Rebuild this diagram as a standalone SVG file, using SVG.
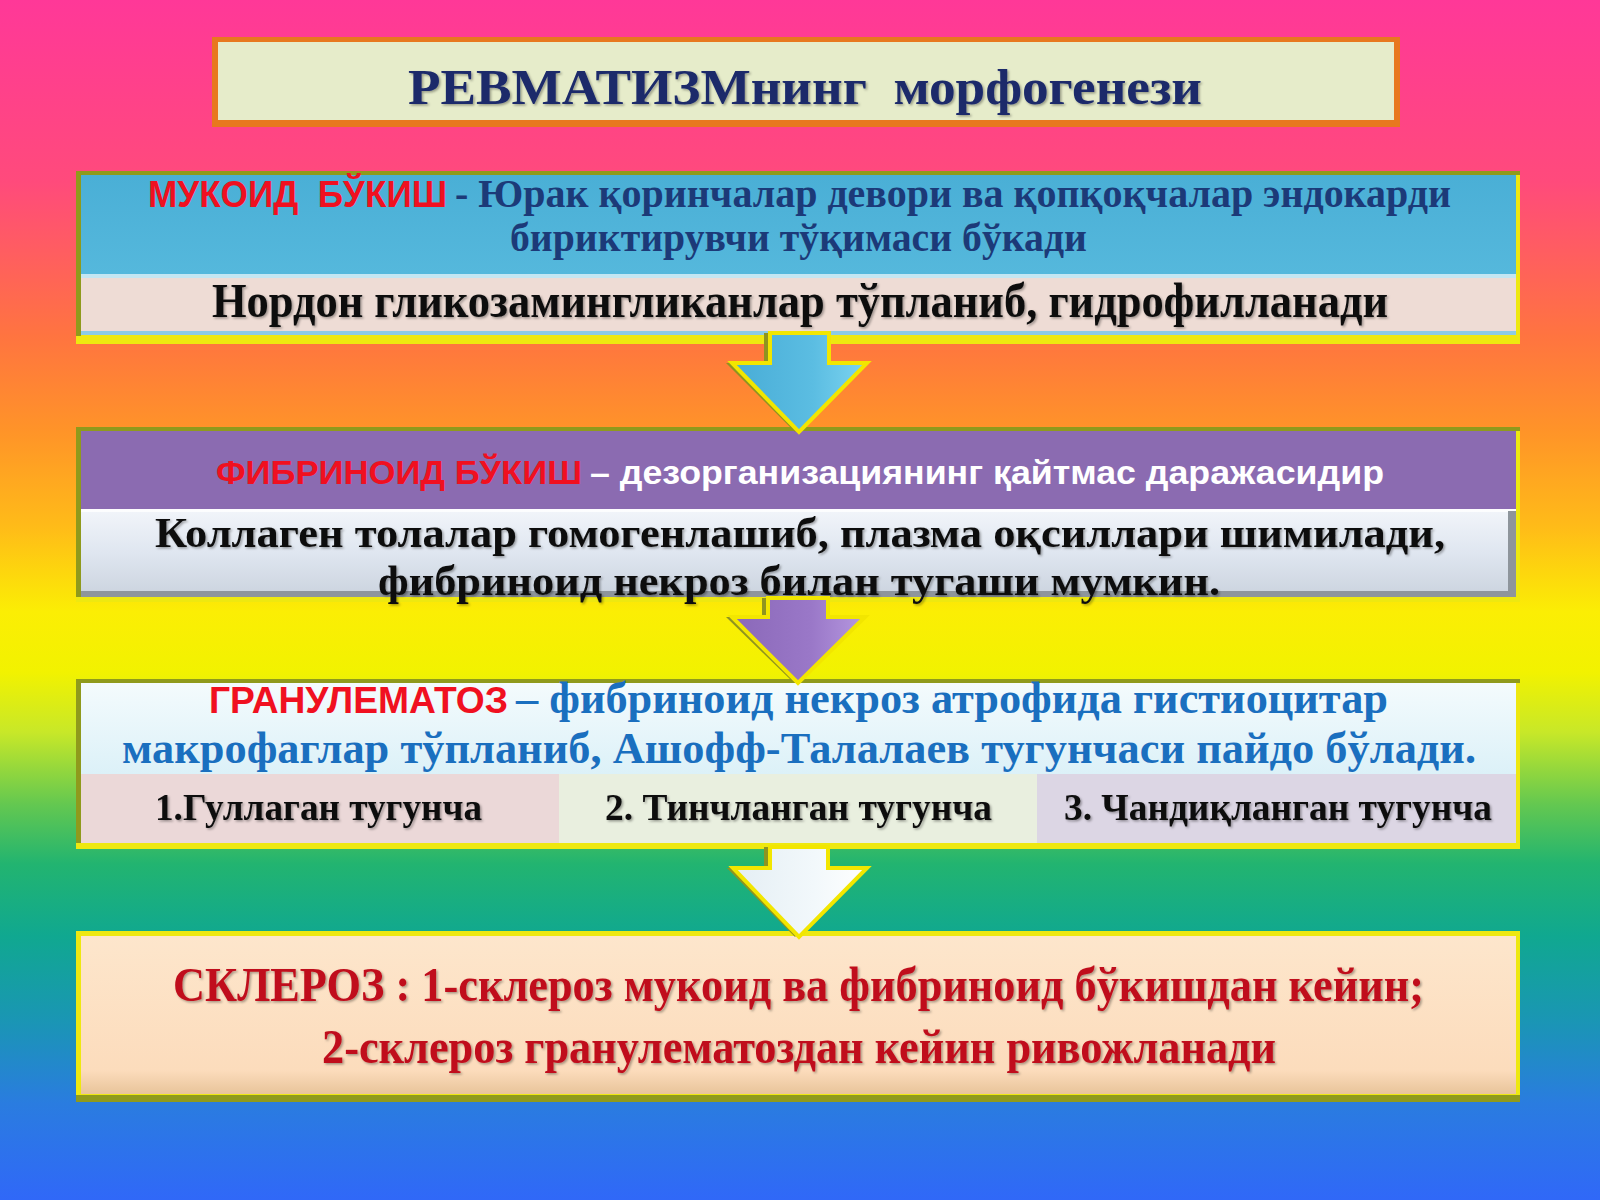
<svg xmlns="http://www.w3.org/2000/svg" width="1600" height="1200" viewBox="0 0 1600 1200">
  <defs>
    <linearGradient id="bg" x1="0" y1="0" x2="0" y2="1">
      <stop offset="0" stop-color="#ff3898"/>
      <stop offset="0.15" stop-color="#ff4a7c"/>
      <stop offset="0.28" stop-color="#ff7440"/>
      <stop offset="0.36" stop-color="#ff9428"/>
      <stop offset="0.44" stop-color="#ffbc18"/>
      <stop offset="0.51" stop-color="#fbee04"/>
      <stop offset="0.56" stop-color="#f2f200"/>
      <stop offset="0.61" stop-color="#c8e828"/>
      <stop offset="0.67" stop-color="#64c850"/>
      <stop offset="0.72" stop-color="#22b470"/>
      <stop offset="0.78" stop-color="#10a890"/>
      <stop offset="0.85" stop-color="#1a96b4"/>
      <stop offset="0.92" stop-color="#2a7ce0"/>
      <stop offset="1" stop-color="#3068f8"/>
    </linearGradient>
    <linearGradient id="blueSec" x1="0" y1="0" x2="0" y2="1">
      <stop offset="0" stop-color="#4aafd6"/>
      <stop offset="1" stop-color="#55b8dc"/>
    </linearGradient>
    <linearGradient id="greySec" x1="0" y1="0" x2="0" y2="1">
      <stop offset="0" stop-color="#f2f5fa"/>
      <stop offset="0.5" stop-color="#dfe6f0"/>
      <stop offset="1" stop-color="#cbd3de"/>
    </linearGradient>
    <linearGradient id="whiteSec" x1="0" y1="0" x2="0" y2="1">
      <stop offset="0" stop-color="#f4fbfd"/>
      <stop offset="1" stop-color="#dcf1f8"/>
    </linearGradient>
    <linearGradient id="peach" x1="0" y1="0" x2="0" y2="1">
      <stop offset="0" stop-color="#fde6cc"/>
      <stop offset="0.85" stop-color="#fcdcbc"/>
      <stop offset="1" stop-color="#e8c49a"/>
    </linearGradient>
    <linearGradient id="arrBlue" x1="0" y1="0" x2="1" y2="0">
      <stop offset="0" stop-color="#48acd6"/>
      <stop offset="0.6" stop-color="#5bbde2"/>
      <stop offset="1" stop-color="#7dd4f0"/>
    </linearGradient>
    <linearGradient id="arrPurple" x1="0" y1="0" x2="1" y2="0">
      <stop offset="0" stop-color="#8a68b8"/>
      <stop offset="0.6" stop-color="#9a78c8"/>
      <stop offset="1" stop-color="#b698e0"/>
    </linearGradient>
    <linearGradient id="arrWhite" x1="0" y1="0" x2="1" y2="0">
      <stop offset="0" stop-color="#e4eef4"/>
      <stop offset="0.6" stop-color="#f2f8fb"/>
      <stop offset="1" stop-color="#ffffff"/>
    </linearGradient>
    <filter id="ts" x="-5%" y="-20%" width="110%" height="140%">
      <feDropShadow dx="1.5" dy="1.5" stdDeviation="1" flood-color="#000" flood-opacity="0.35"/>
    </filter>
  </defs>
  <style>
    .frame { fill: #eee810; }
    .frameShade { fill: #8f9a1c; }
    .serif { font-family: "Liberation Serif", "Times New Roman", serif; font-weight: bold; }
    .sans { font-family: "Liberation Sans", Arial, sans-serif; font-weight: bold; }
    .red { fill: #f01020; }
    .navy { fill: #1c3a78; }
    .black { fill: #111111; }
    .white { fill: #ffffff; }
    .blue { fill: #1a6fbf; }
    .dred { fill: #c0101c; }
    .arrowEdge { stroke: #f2e600; stroke-width: 4; stroke-linejoin: miter; }
    .arrowShadow { fill: #8f9420; }
  </style>

  <rect x="0" y="0" width="1600" height="1200" fill="url(#bg)"/>

  <g id="title">
    <rect x="212" y="37" width="1188" height="90" fill="#e8781e"/>
    <rect x="218" y="42" width="1176" height="78" fill="#e6ecca"/>
    <text class="serif" x="408" y="104" font-size="50" fill="#1b2a6b" textLength="794" lengthAdjust="spacingAndGlyphs" filter="url(#ts)">РЕВМАТИЗМнинг&#160; морфогенези</text>
  </g>

  <g id="node-mucoid">
    <rect class="frame" x="76" y="171" width="1444" height="173"/>
    <rect class="frameShade" x="76" y="171" width="1444" height="4"/>
    <rect class="frameShade" x="76" y="171" width="5" height="165"/>
    <rect x="81" y="175" width="1435" height="99" fill="url(#blueSec)"/>
    <rect x="81" y="274" width="1435" height="4" fill="#c4e6f2"/>
    <rect x="81" y="278" width="1435" height="53" fill="#eedcd5"/>
    <rect x="81" y="331" width="1435" height="4" fill="#8ccbe6"/>
    <text class="sans red" x="148" y="207" font-size="36" textLength="299" lengthAdjust="spacingAndGlyphs">МУКОИД&#160; БЎКИШ</text>
    <text class="serif navy" x="455" y="207" font-size="39" textLength="996" lengthAdjust="spacingAndGlyphs">- Юрак қоринчалар девори ва қопқоқчалар эндокарди</text>
    <text class="serif navy" x="510" y="251" font-size="39" textLength="577" lengthAdjust="spacingAndGlyphs">бириктирувчи тўқимаси бўкади</text>
    <text class="serif black" x="212" y="317" font-size="48" textLength="1176" lengthAdjust="spacingAndGlyphs" filter="url(#ts)">Нордон гликозамингликанлар тўпланиб, гидрофилланади</text>
  </g>

  <g id="node-fibrinoid">
    <rect class="frame" x="76" y="427" width="1444" height="175"/>
    <rect class="frameShade" x="76" y="427" width="1444" height="4"/>
    <rect class="frameShade" x="76" y="427" width="5" height="170"/>
    <rect x="81" y="431" width="1435" height="78" fill="#8b6bb1"/>
    <rect x="81" y="509" width="1435" height="88" fill="url(#greySec)"/>
    <rect x="81" y="509" width="1435" height="3" fill="#ffffff" opacity="0.8"/>
    <rect x="1508" y="511" width="8" height="86" fill="#8e959c"/>
    <rect x="81" y="591" width="1435" height="6" fill="#8e959c"/>
    <text class="sans red" x="216" y="484" font-size="33" textLength="366" lengthAdjust="spacingAndGlyphs">ФИБРИНОИД БЎКИШ</text>
    <text class="sans white" x="590" y="484" font-size="33" textLength="794" lengthAdjust="spacingAndGlyphs">– дезорганизациянинг қайтмас даражасидир</text>
    <text class="serif black" x="155" y="547" font-size="43" textLength="1290" lengthAdjust="spacingAndGlyphs" filter="url(#ts)">Коллаген толалар гомогенлашиб, плазма оқсиллари шимилади,</text>
    <text class="serif black" x="378" y="595" font-size="43" textLength="842" lengthAdjust="spacingAndGlyphs" filter="url(#ts)">фибриноид некроз билан тугаши мумкин.</text>
  </g>

  <g id="node-granulomatosis">
    <rect class="frame" x="76" y="679" width="1444" height="170"/>
    <rect class="frameShade" x="76" y="679" width="1444" height="4"/>
    <rect class="frameShade" x="76" y="679" width="5" height="164"/>
    <rect x="81" y="683" width="1435" height="91" fill="url(#whiteSec)"/>
    <rect x="81" y="774" width="478" height="69" fill="#ebd8d8"/>
    <rect x="559" y="774" width="478" height="69" fill="#e9efdf"/>
    <rect x="1037" y="774" width="479" height="69" fill="#dcd6e4"/>
    <text class="sans red" x="209" y="713" font-size="36" textLength="299" lengthAdjust="spacingAndGlyphs">ГРАНУЛЕМАТОЗ</text>
    <text class="serif blue" x="516" y="713" font-size="44" textLength="872" lengthAdjust="spacingAndGlyphs">– фибриноид некроз атрофида гистиоцитар</text>
    <text class="serif blue" x="122" y="763" font-size="44" textLength="1354" lengthAdjust="spacingAndGlyphs">макрофаглар тўпланиб, Ашофф-Талалаев тугунчаси пайдо бўлади.</text>
    <text class="serif black" x="155" y="820" font-size="37" textLength="327" lengthAdjust="spacingAndGlyphs" filter="url(#ts)">1.Гуллаган тугунча</text>
    <text class="serif black" x="605" y="820" font-size="37" textLength="387" lengthAdjust="spacingAndGlyphs" filter="url(#ts)">2. Тинчланган тугунча</text>
    <text class="serif black" x="1064" y="820" font-size="37" textLength="428" lengthAdjust="spacingAndGlyphs" filter="url(#ts)">3. Чандиқланган тугунча</text>
  </g>

  <g id="node-sclerosis">
    <rect class="frame" x="76" y="931" width="1444" height="171"/>
    <rect class="frameShade" x="76" y="1095" width="1444" height="7"/>
    <rect x="81" y="936" width="1435" height="158" fill="url(#peach)"/>
    <text class="serif dred" x="173" y="1001" font-size="48" textLength="1251" lengthAdjust="spacingAndGlyphs" filter="url(#ts)">СКЛЕРОЗ : 1-склероз мукоид ва фибриноид бўкишдан кейин;</text>
    <text class="serif dred" x="322" y="1063" font-size="48" textLength="954" lengthAdjust="spacingAndGlyphs" filter="url(#ts)">2-склероз гранулематоздан кейин ривожланади</text>
  </g>

  <g id="connectors">
    <g id="arrow-1">
      <polygon class="arrowShadow" points="764,333 823,333 823,363 861,363 795,432 726,363 764,363"/>
      <polygon class="arrowEdge" fill="url(#arrBlue)" points="770,333 829,333 829,363 867,363 799,432 732,363 770,363"/>
    </g>
    <g id="arrow-2">
      <polygon class="arrowShadow" points="762,598 822,598 822,617 859,617 794,683 726,617 762,617"/>
      <polygon class="arrowEdge" fill="url(#arrPurple)" points="768,598 828,598 828,617 865,617 798,683 732,617 768,617"/>
    </g>
    <g id="arrow-3">
      <polygon class="arrowShadow" points="764,847 822,847 822,868 861,868 795,937 727,868 764,868"/>
      <polygon class="arrowEdge" fill="url(#arrWhite)" points="770,847 828,847 828,868 867,868 799,937 733,868 770,868"/>
    </g>
  </g>
</svg>
